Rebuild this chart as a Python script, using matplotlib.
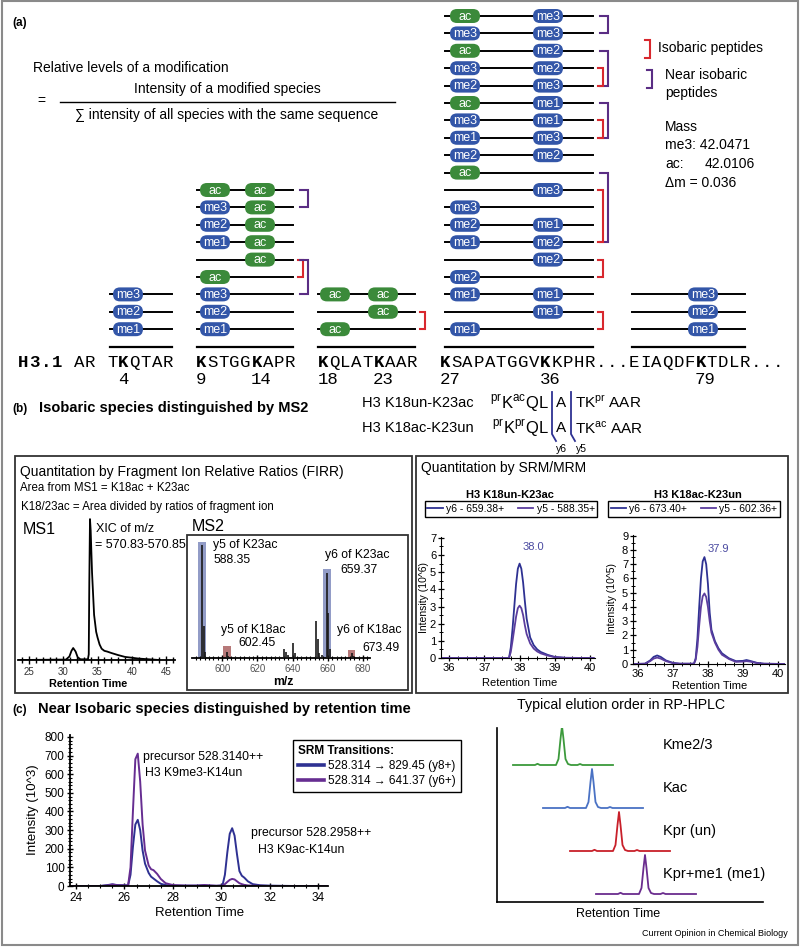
import matplotlib.pyplot as plt
from matplotlib.patches import FancyBboxPatch, Rectangle
from matplotlib.ticker import MultipleLocator

plt.rcParams['font.family'] = ['Liberation Sans', 'DejaVu Sans']
plt.rcParams['mathtext.fontset'] = 'custom'
plt.rcParams['mathtext.rm'] = 'Liberation Sans'

# ---------------- data ----------------
# (a) modification states of each peptide (top row first)
k4_rows = [('me3',), ('me2',), ('me1',)]
k9_k14_rows = [('ac', 'ac'), ('me3', 'ac'), ('me2', 'ac'), ('me1', 'ac'), ('', 'ac'),
               ('ac', ''), ('me3', ''), ('me2', ''), ('me1', '')]
k18_k23_rows = [('ac', 'ac'), ('', 'ac'), ('ac', '')]
k27_k36_rows = [('ac', 'me3'), ('me3', 'me3'), ('ac', 'me2'), ('me3', 'me2'), ('me2', 'me3'),
                ('ac', 'me1'), ('me3', 'me1'), ('me1', 'me3'), ('me2', 'me2'), ('ac', ''),
                ('', 'me3'), ('me3', ''), ('me2', 'me1'), ('me1', 'me2'), ('', 'me2'),
                ('me2', ''), ('me1', 'me1'), ('', 'me1'), ('me1', '')]
k79_rows = [('me3',), ('me2',), ('me1',)]

# brackets: (first row, last row, kind)
k9_k14_brackets = [(0, 1, 'near'), (4, 5, 'iso'), (4, 6, 'near')]
k18_k23_brackets = [(1, 2, 'iso')]
k27_k36_brackets = [(0, 1, 'near'), (2, 4, 'near'), (3, 4, 'iso'), (5, 7, 'near'), (6, 7, 'iso'),
                    (9, 13, 'near'), (10, 13, 'iso'), (14, 15, 'iso'), (17, 18, 'iso')]

h3_sequence = 'H3.1 AR TKQTAR  KSTGGKAPR  KQLATKAAR  KSAPATGGVKKPHR...EIAQDFKTDLR...'
lysine_numbers = [4, 9, 14, 18, 23, 27, 36, 79]
lysine_index = [9, 16, 21, 27, 32, 38, 47, 61]

mass_me3 = '42.0471'
mass_ac = '42.0106'
mass_delta = '0.036'

# (b) peptides
b_peptides = ['H3 K18un-K23ac', 'H3 K18ac-K23un']
b_k18_mod = ['ac', 'pr']
b_k23_mod = ['pr', 'ac']

# MS1 XIC
ms1_rt = [23.5, 30.4, 30.9, 31.2, 31.45, 31.8, 32.1, 32.5, 33.6, 33.72, 33.8, 33.9, 34.0,
          34.2, 34.5, 34.8, 35.0, 35.3, 35.6, 36.0, 36.4, 37.0, 38.0, 39.0, 40.0, 41.0, 42.5, 44.0]
ms1_int = [0, 0.3, 2.5, 6.5, 8.5, 6, 2, 0.5, 0.5, 4, 55, 100, 92,
           62, 32, 20, 16, 11, 8, 6.5, 6, 5, 3.5, 2.2, 1.6, 1, 0.5, 0]

# MS2 spectrum
ms2_mz = [583.5, 586.0, 588.35, 589.35, 590.3, 593, 597, 602.45, 603.4, 607, 612, 616, 621, 626,
          630, 633, 635.3, 636.3, 637.2, 640.3, 641.3, 645, 649, 651, 653.3, 654.3, 655.2,
          656.5, 659.37, 660.4, 661.4, 665, 669, 673.49, 674.5, 678]
ms2_int = [1, 1, 100, 28, 5, 1, 1, 5, 2, 1, 1, 1, 1, 1,
           1, 1, 8, 5, 3, 13, 4, 1, 1, 1, 33, 17, 4,
           3, 75, 40, 8, 1, 1, 4, 2, 1]
ms2_y_k23 = [588.35, 659.37]
ms2_y_k23_box = [103, 79]
ms2_y_k18 = [602.45, 673.49]
ms2_y_k18_box = [11, 7.5]

# SRM/MRM traces
srm1_rt = [35.8, 37.0, 37.7, 37.75, 37.8, 37.85, 37.9, 37.95, 38.0, 38.05, 38.1, 38.15, 38.2,
           38.3, 38.4, 38.5, 38.6, 38.8, 39.0, 39.3, 40.1]
srm1_y6 = [0, 0, 0, 0.6, 1.7, 3.0, 4.3, 5.2, 5.5, 5.2, 4.4, 3.3, 2.3,
           1.2, 0.75, 0.5, 0.35, 0.18, 0.06, 0.01, 0]
srm1_y5 = [0, 0, 0, 0.35, 1.0, 1.7, 2.4, 2.9, 3.05, 2.9, 2.5, 1.9, 1.4,
           0.85, 0.55, 0.38, 0.27, 0.14, 0.05, 0.01, 0]
srm1_apex = '38.0'

srm2_rt = [35.86, 36.2, 36.35, 36.45, 36.55, 36.65, 36.8, 37.0, 37.2, 37.6, 37.65, 37.7, 37.75,
           37.8, 37.85, 37.9, 37.95, 38.0, 38.05, 38.1, 38.2, 38.3, 38.4, 38.6, 38.8, 39.0,
           39.1, 39.2, 39.4, 39.6, 40.2]
srm2_y6 = [0, 0.02, 0.25, 0.5, 0.6, 0.5, 0.25, 0.08, 0.02, 0.02, 0.4, 1.8, 4.0,
           6.0, 7.2, 7.5, 7.0, 5.6, 3.6, 2.4, 1.6, 1.1, 0.75, 0.4, 0.2, 0.22,
           0.28, 0.22, 0.08, 0.02, 0]
srm2_y5 = [0, 0.02, 0.2, 0.38, 0.45, 0.38, 0.2, 0.06, 0.02, 0.02, 0.3, 1.2, 2.7,
           4.0, 4.75, 4.95, 4.7, 4.0, 3.0, 2.2, 1.5, 1.0, 0.65, 0.35, 0.15, 0.17,
           0.2, 0.17, 0.06, 0.02, 0]
srm2_apex = '37.9'

# (c) near-isobaric SRM chromatogram
c_rt = [23.8, 25.0, 25.3, 25.5, 25.7, 26.0, 26.15, 26.25, 26.35, 26.45, 26.55, 26.65, 26.75,
        26.85, 27.0, 27.1, 27.2, 27.35, 27.5, 27.7, 28.0, 28.5, 29.0, 29.3, 29.5, 29.8, 30.05,
        30.15, 30.25, 30.35, 30.45, 30.55, 30.65, 30.75, 30.85, 30.95, 31.1, 31.3, 31.6, 32.0,
        33.0, 34.4]
c_y6 = [0, 0, 3, 8, 4, 3, 3, 100, 400, 680, 710, 560, 330,
        190, 110, 90, 85, 65, 38, 15, 5, 2, 2, 5, 3, 1, 2,
        10, 22, 33, 38, 35, 25, 15, 10, 6, 3, 2, 1, 0,
        0, 0]
c_y8 = [0, 0, 5, 9, 5, 4, 3, 60, 210, 330, 355, 300, 190,
        120, 70, 50, 40, 25, 12, 5, 2, 2, 2, 4, 2, 1, 3,
        60, 180, 280, 310, 270, 170, 80, 55, 45, 25, 10, 4, 2,
        0, 0]

# typical elution order
elution_species = ['Kme2/3', 'Kac', 'Kpr (un)', 'Kpr+me1 (me1)']
elution_peak_rt = [6.5, 9.5, 12.2, 14.8]
profile_dt = [-4.9, -2.7, -2.45, -2.2, -0.6, -0.35, -0.15, 0.0, 0.15, 0.35, 0.6, 0.9, 1.55, 1.8, 2.05, 5.1]
profile_signal = [0, 0, 0.12, 0, 0, 0.6, 2.6, 3.9, 2.6, 0.6, 0.1, 0, 0, 0.1, 0, 0]

# ---------------- figure ----------------
W, H = 800, 947
ME_COL, AC_COL = '#3356a8', '#3b8a3a'
RED, PURPLE = '#d8282e', '#5a2d84'
NAVY, VIOLET = '#2e3192', '#662d91'

fig = plt.figure(figsize=(8, 9.47), dpi=100)
ax0 = fig.add_axes([0, 0, 1, 1])
ax0.set_xlim(0, W)
ax0.set_ylim(H, 0)
ax0.axis('off')


def px_axes(x0, y0, x1, y1):
    ax = fig.add_axes([x0 / W, 1 - y1 / H, (x1 - x0) / W, (y1 - y0) / H])
    ax.patch.set_alpha(0)
    return ax


def row_y(i):
    return 16 + 17.4 * i


def bracket(x, y0, y1, color, tick):
    ax0.plot([x - tick, x, x, x - tick], [y0, y0, y1, y1], color=color, lw=1.5,
             solid_joinstyle='miter')


def pill(x, y, label):
    col = AC_COL if label == 'ac' else ME_COL
    ax0.add_patch(FancyBboxPatch((x - 15, y - 7), 30, 14,
                                 boxstyle='round,pad=0,rounding_size=7',
                                 fc=col, ec='none', zorder=3))
    ax0.text(x, y + 0.5, label, color='white', fontsize=9, ha='center', va='center', zorder=4)


def peptide(rows, x_left, x_right, pill_x, brackets=()):
    first = 19 - len(rows)
    for i, mods in enumerate(rows):
        y = row_y(first + i)
        ax0.plot([x_left, x_right], [y, y], color='black', lw=1.4, zorder=2)
        for m, px in zip(mods, pill_x):
            if m:
                pill(px, y, m)
    ax0.plot([x_left, x_right], [row_y(19), row_y(19)], color='black', lw=1.6)
    for r0, r1, kind in brackets:
        y0, y1 = row_y(first + r0), row_y(first + r1)
        if kind == 'near':
            bracket(x_right + 15, y0, y1, PURPLE, 8)
        else:
            bracket(x_right + 10, y0, y1, RED, 5)


# outer frame
ax0.add_patch(Rectangle((2, 1), 796, 944, fill=False, ec='#8a8a8a', lw=1.5))

# ---- (a)
ax0.text(12, 23, '(a)', fontsize=8.5, weight='bold', va='center')
ax0.text(33, 68, 'Relative levels of a modification', fontsize=10, va='center')
ax0.text(37, 101, '=', fontsize=10, va='center')
ax0.text(227, 89, 'Intensity of a modified species', fontsize=10, va='center', ha='center')
ax0.plot([60, 395], [102, 102], color='black', lw=1)
ax0.text(227, 115, '\u2211 intensity of all species with the same sequence', fontsize=10,
         va='center', ha='center')

peptide(k4_rows, 110, 172, [128])
peptide(k9_k14_rows, 197, 293, [215, 260], k9_k14_brackets)
peptide(k18_k23_rows, 318, 415, [335, 383], k18_k23_brackets)
peptide(k27_k36_rows, 445, 593, [465, 548], k27_k36_brackets)
peptide(k79_rows, 632, 745, [703])

for i, ch in enumerate(h3_sequence):
    bold = i < 4 or i in lysine_index
    ax0.text(18 + i * 11.1 + 5.55, 362, ch, family='Liberation Mono', fontsize=12.5,
             weight='bold' if bold else 'normal', ha='center', va='center')
for n, idx in zip(lysine_numbers, lysine_index):
    ax0.text(18 + idx * 11.1, 379, str(n), family='Liberation Mono', fontsize=12.5,
             ha='left', va='center')

bracket(650, 40, 58, RED, 5)
ax0.text(658, 48, 'Isobaric peptides', fontsize=10, va='center')
bracket(652, 70, 88, PURPLE, 5)
ax0.text(665, 75, 'Near isobaric', fontsize=10, va='center')
ax0.text(665, 93, 'peptides', fontsize=10, va='center')
ax0.text(665, 127, 'Mass', fontsize=10, va='center')
ax0.text(665, 145, 'me3: ' + mass_me3, fontsize=10, va='center')
ax0.text(665, 164, 'ac:', fontsize=10, va='center')
ax0.text(705, 164, mass_ac, fontsize=10, va='center')
ax0.text(665, 183, '\u0394m = ' + mass_delta, fontsize=10, va='center')

# ---- (b)
ax0.text(12, 409, '(b)', fontsize=8.5, weight='bold', va='center')
ax0.text(39, 408, 'Isobaric species distinguished by MS2', fontsize=10.5, weight='bold', va='center')
for i, name in enumerate(b_peptides):
    y = 403 + 25 * i
    ax0.text(362, y, name, fontsize=10.5, va='center')
    ax0.text(549, y, r'$^{\rm %s}$K$^{\rm %s}$QL' % ('pr', b_k18_mod[i]), fontsize=12,
             va='center', ha='right')
    ax0.text(561.5, y, 'A', fontsize=11, va='center', ha='center')
    ax0.text(575, y, r'TK$^{\rm %s}$ AAR' % b_k23_mod[i], fontsize=11, va='center', ha='left')
ax0.plot([552, 552, 556], [392, 434, 441], color=NAVY, lw=1.3)
ax0.plot([571, 571, 575], [392, 434, 441], color=NAVY, lw=1.3)
ax0.text(561, 449, 'y6', fontsize=7.5, ha='center', va='center')
ax0.text(581, 449, 'y5', fontsize=7.5, ha='center', va='center')

ax0.add_patch(Rectangle((15, 456), 397, 237, fill=False, ec='#333', lw=1.3))
ax0.add_patch(Rectangle((416, 456), 372, 237, fill=False, ec='#333', lw=1.3))
ax0.text(20, 472, 'Quantitation by Fragment Ion Relative Ratios (FIRR)', fontsize=10, va='center')
ax0.text(20, 488, 'Area from MS1 = K18ac + K23ac', fontsize=8.3, va='center')
ax0.text(21, 507, 'K18/23ac = Area divided by ratios of fragment ion', fontsize=8.3, va='center')
ax0.text(23, 529, 'MS1', fontsize=11.5, va='center')
ax0.text(96, 529, 'XIC of m/z', fontsize=9, va='center')
ax0.text(95, 545, '= 570.83-570.85', fontsize=9, va='center')
ax0.text(88, 684, 'Retention Time', fontsize=7.8, weight='bold', ha='center', va='center')

# MS1 plot
ax1 = px_axes(18, 505, 175, 660)
ax1.plot(ms1_rt, ms1_int, color='black', lw=1.3)
ax1.set_xlim(23.4, 46.3)
ax1.set_ylim(0, 110)
for s in ['left', 'right', 'top']:
    ax1.spines[s].set_visible(False)
ax1.spines['bottom'].set_linewidth(1.3)
ax1.set_yticks([])
ax1.xaxis.set_major_locator(MultipleLocator(5))
ax1.xaxis.set_minor_locator(MultipleLocator(1))
ax1.tick_params(axis='x', which='major', direction='inout', length=6, width=1,
                labelsize=7, labelcolor='#333', pad=2)
ax1.tick_params(axis='x', which='minor', direction='inout', length=5, width=1)

# MS2 plot
ax0.add_patch(Rectangle((187, 535), 221, 155, fill=False, ec='#333', lw=1.3))
ax0.text(192, 526, 'MS2', fontsize=11.5, va='center')
ax2 = px_axes(192, 534, 370, 658)
ax2.bar(ms2_y_k23, ms2_y_k23_box, width=4.5, color='#7f8bbd', alpha=0.85, zorder=1)
ax2.bar(ms2_y_k18, ms2_y_k18_box, width=4.5, color='#b06a6a', alpha=0.9, zorder=1)
ax2.vlines(ms2_mz, 0, ms2_int, color='#1a1a1a', lw=1.2, zorder=3)
ax2.set_xlim(582.8, 684)
ax2.set_ylim(0, 110)
for s in ['left', 'right', 'top']:
    ax2.spines[s].set_visible(False)
ax2.spines['bottom'].set_linewidth(1.3)
ax2.set_yticks([])
ax2.xaxis.set_major_locator(MultipleLocator(20))
ax2.xaxis.set_minor_locator(MultipleLocator(2.5))
ax2.tick_params(axis='x', which='major', direction='inout', length=5, width=1,
                labelsize=7, labelcolor='#555', pad=2)
ax2.tick_params(axis='x', which='minor', direction='inout', length=3, width=0.8)
ax0.text(213, 545, 'y5 of K23ac', fontsize=8.8, va='center')
ax0.text(213, 560, '588.35', fontsize=8.8, va='center')
ax0.text(325, 555, 'y6 of K23ac', fontsize=8.8, va='center')
ax0.text(340, 570, '659.37', fontsize=8.8, va='center')
ax0.text(221, 630, 'y5 of K18ac', fontsize=8.8, va='center')
ax0.text(238, 643, '602.45', fontsize=8.8, va='center')
ax0.text(337, 630, 'y6 of K18ac', fontsize=8.8, va='center')
ax0.text(362, 648, '673.49', fontsize=8.8, va='center')
ax0.text(283, 682, 'm/z', fontsize=8.8, weight='bold', ha='center', va='center')

# SRM/MRM plots
ax0.text(421, 468, 'Quantitation by SRM/MRM', fontsize=10, va='center')


def srm_plot(box, xlim, ylim, rt, y6, y5, apex, apex_off, labels, leg_xy):
    ax = px_axes(*box)
    ax.plot(rt, y6, color=NAVY, lw=1.3, label=labels[0])
    ax.plot(rt, y5, color='#5b3d9e', lw=1.3, label=labels[1])
    k = y6.index(max(y6))
    ax.annotate(apex, xy=(rt[k], y6[k]), xytext=apex_off, textcoords='offset points',
                color='#4a4aa0', fontsize=8, ha='center', va='center')
    ax.set_xlim(*xlim)
    ax.set_ylim(*ylim)
    for s in ['right', 'top']:
        ax.spines[s].set_visible(False)
    ax.xaxis.set_major_locator(MultipleLocator(1))
    ax.xaxis.set_minor_locator(MultipleLocator(0.25))
    ax.yaxis.set_major_locator(MultipleLocator(1))
    ax.yaxis.set_minor_locator(MultipleLocator(0.5))
    ax.tick_params(which='major', direction='inout', length=4, width=0.9, labelsize=8, pad=1.5)
    ax.tick_params(which='minor', direction='inout', length=2.5, width=0.7)
    leg = ax.legend(ncol=2, loc='center', bbox_to_anchor=(leg_xy[0] / W, 1 - leg_xy[1] / H),
                    bbox_transform=fig.transFigure, fontsize=7.5, fancybox=False,
                    edgecolor='black', framealpha=1, handlelength=1.5, handletextpad=0.3,
                    columnspacing=1.3, borderpad=0.25, borderaxespad=0)
    leg.get_frame().set_linewidth(1)
    return ax


ax0.text(510, 495, 'H3 K18un-K23ac', fontsize=8, weight='bold', ha='center', va='center')
ax0.text(698, 495, 'H3 K18ac-K23un', fontsize=8, weight='bold', ha='center', va='center')
srm_plot((441, 537, 595, 658), (35.77, 40.14), (0, 7.05), srm1_rt, srm1_y6, srm1_y5,
         srm1_apex, (10, 12), ['y6 - 659.38+', 'y5 - 588.35+'], (511, 509))
srm_plot((633, 535, 785, 664), (35.86, 40.2), (0, 9.05), srm2_rt, srm2_y6, srm2_y5,
         srm2_apex, (10, 6), ['y6 - 673.40+', 'y5 - 602.36+'], (694, 509))
ax0.text(520, 683, 'Retention Time', fontsize=8, ha='center', va='center')
ax0.text(710, 686, 'Retention Time', fontsize=8, ha='center', va='center')
ax0.text(424, 597, 'Intensity (10^6)', fontsize=7.5, rotation=90, ha='center', va='center')
ax0.text(612, 598, 'Intensity (10^5)', fontsize=7.5, rotation=90, ha='center', va='center')

# ---- (c)
ax0.text(12, 710, '(c)', fontsize=8.5, weight='bold', va='center')
ax0.text(38, 709, 'Near Isobaric species distinguished by retention time', fontsize=10.5,
         weight='bold', va='center')
axc = px_axes(70, 735, 328, 886)
axc.plot(c_rt, c_y8, color=NAVY, lw=1.4, label='528.314 \u2192 829.45 (y8+)')
axc.plot(c_rt, c_y6, color=VIOLET, lw=1.4, label='528.314 \u2192 641.37 (y6+)')
axc.set_xlim(23.75, 34.41)
axc.set_ylim(0, 810)
for s in ['right', 'top']:
    axc.spines[s].set_visible(False)
axc.spines['left'].set_linewidth(1.3)
axc.spines['bottom'].set_linewidth(1.3)
axc.xaxis.set_major_locator(MultipleLocator(2))
axc.xaxis.set_minor_locator(MultipleLocator(0.5))
axc.yaxis.set_major_locator(MultipleLocator(100))
axc.yaxis.set_minor_locator(MultipleLocator(20))
axc.tick_params(which='major', direction='inout', length=5, width=1, labelsize=8.5, pad=1.5)
axc.tick_params(which='minor', direction='inout', length=3, width=0.8)
axc.text(26.77, 692, 'precursor 528.3140++', fontsize=8.8, va='center')
axc.text(26.85, 606, 'H3 K9me3-K14un', fontsize=8.8, va='center')
axc.text(31.23, 284, 'precursor 528.2958++', fontsize=8.8, va='center')
axc.text(31.52, 193, 'H3 K9ac-K14un', fontsize=8.8, va='center')
legc = axc.legend(loc='center', bbox_to_anchor=(377 / W, 1 - 766 / H),
                  bbox_transform=fig.transFigure, title='SRM Transitions:', alignment='left',
                  title_fontproperties={'weight': 'bold', 'size': 8.5}, fontsize=8.5,
                  fancybox=False, edgecolor='black', framealpha=1, handlelength=2.2,
                  handletextpad=0.4, borderpad=0.4, labelspacing=0.25, borderaxespad=0)
legc.get_frame().set_linewidth(1)
for h in legc.get_lines():
    h.set_linewidth(2.6)
ax0.text(200, 913, 'Retention Time', fontsize=9.5, ha='center', va='center')
ax0.text(33, 810, 'Intensity (10^3)', fontsize=9.5, rotation=90, ha='center', va='center')

# typical elution order
elution_colors = ['#3c9a3c', '#4a72c4', '#c8202a', '#6a2c8e']
ax0.text(621, 705, 'Typical elution order in RP-HPLC', fontsize=10.2, ha='center', va='center')
axe = px_axes(497, 728, 763, 902)
for i, (name, rt0) in enumerate(zip(elution_species, elution_peak_rt)):
    base = 0.8 + 4.3 * (len(elution_species) - 1 - i)
    axe.plot([rt0 + d for d in profile_dt], [base + s for s in profile_signal],
             color=elution_colors[i], lw=1.3)
    axe.text(16.6, base + 2.0, name, fontsize=10.5, va='center')
axe.set_xlim(0, 26.6)
axe.set_ylim(0, 17.4)
for s in ['right', 'top']:
    axe.spines[s].set_visible(False)
axe.spines['left'].set_linewidth(1.2)
axe.spines['bottom'].set_linewidth(1.2)
axe.set_xticks([])
axe.set_yticks([])
ax0.text(618, 914, 'Retention Time', fontsize=9, ha='center', va='center')
ax0.text(788, 933, 'Current Opinion in Chemical Biology', fontsize=6.5, ha='right', va='center')

fig.savefig('out.png', dpi=100)
